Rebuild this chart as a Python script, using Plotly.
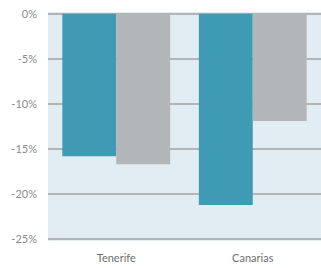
import plotly.graph_objects as go

categories = ["Tenerife", "Canarias"]
series_a = [-15.8, -21.2]
series_b = [-16.7, -11.9]
tick_vals = [0, -5, -10, -15, -20, -25]
tick_text = ["0%", "-5%", "-10%", "-15%", "-20%", "-25%"]

fig = go.Figure()
fig.add_trace(go.Bar(x=categories, y=series_a, marker=dict(color="#3f9ab3", line=dict(width=0))))
fig.add_trace(go.Bar(x=categories, y=series_b, marker=dict(color="#b3b6b9", line=dict(width=0))))

fig.update_layout(
    width=321, height=268,
    margin=dict(l=48, r=0, t=12, b=27),
    barmode="group", bargap=0.21, bargroupgap=0,
    showlegend=False,
    plot_bgcolor="#e2edf3", paper_bgcolor="white",
    font=dict(family="Lato, Open Sans, sans-serif", size=11, color="#7f7f7f"),
)
fig.update_yaxes(range=[-25.2, 0.2], tickvals=tick_vals, ticktext=tick_text,
                 showgrid=True, gridcolor="#b4b4b4", gridwidth=2,
                 zeroline=False, ticks="", ticklabelstandoff=10, automargin=False,
                 tickfont=dict(color="#8a8a8a", size=11))
fig.update_xaxes(showgrid=False, ticks="", tickfont=dict(color="#6f6f6f", size=11),
                 showline=False, automargin=False, ticklabelstandoff=9)

fig.write_html("out.html", config={"displayModeBar": False},
               post_script="document.body.style.margin='0';document.body.style.overflow='hidden';")
